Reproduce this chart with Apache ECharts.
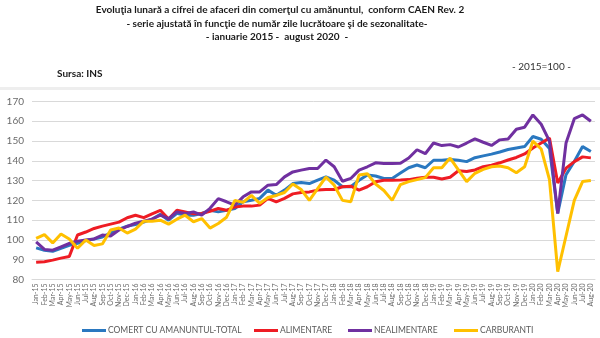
<!DOCTYPE html>
<html><head><meta charset="utf-8">
<script src="https://cdn.jsdelivr.net/npm/echarts@6/dist/echarts.min.js"></script>
<style>html,body{margin:0;padding:0;background:#fff}#c{width:600px;height:338px}</style>
</head><body><div id="c"></div>
<script>
const categories = [
'Jan-15','Feb-15','Mar-15','Apr-15','May-15','Jun-15','Jul-15','Aug-15','Sep-15','Oct-15','Nov-15','Dec-15',
'Jan-16','Feb-16','Mar-16','Apr-16','May-16','Jun-16','Jul-16','Aug-16','Sep-16','Oct-16','Nov-16','Dec-16',
'Jan-17','Feb-17','Mar-17','Apr-17','May-17','Jun-17','Jul-17','Aug-17','Sep-17','Oct-17','Nov-17','Dec-17',
'Jan-18','Feb-18','Mar-18','Apr-18','May-18','Jun-18','Jul-18','Aug-18','Sep-18','Oct-18','Nov-18','Dec-18',
'Jan-19','Feb-19','Mar-19','Apr-19','May-19','Jun-19','Jul-19','Aug-19','Sep-19','Oct-19','Nov-19','Dec-19',
'Jan-20','Feb-20','Mar-20','Apr-20','May-20','Jun-20','Jul-20','Aug-20'];

const total = [96,94.8,94.3,95.8,97.3,98.3,99.7,100.5,101.5,103.6,105.5,107,
107.8,109,110.5,113,110,113.5,112.5,112.5,113.4,115,114.2,115,
115.9,119.3,120.1,121,125.2,122.6,125.2,128.5,129,128.5,130.2,131.9,
130.2,126.9,126.9,130.2,132.8,132.3,131.1,131.1,133.8,136.5,137.9,136.5,
140.3,140.3,140.7,140.3,139.6,141.6,142.5,143.4,144.5,145.7,146.5,147.2,
152.3,150.9,146.3,113.5,133,139.7,147.2,144.7];

const alimentare = [88.7,89,89.8,90.8,91.6,102.5,104,105.8,107,108,109,111.2,
112.5,111.3,113.2,115,110.6,115,114.2,113.2,113.4,114.5,115.9,115,
116.7,117.1,117.1,117.6,121,119.3,121,123.3,124,124.3,125.2,125.5,
125.5,126.9,127.2,125.2,126.9,129.4,130.2,130.2,130.3,130.5,131.2,131.7,
131.7,130.8,131.7,135,134.6,135.4,137,137.8,139,140.4,141.7,143.5,
146.5,149,151.5,128.8,136.3,139.6,142,141.5];

const nealimentare = [99,95.2,94.8,96.5,98.2,99.4,100,100.5,102.5,102,105,106.8,
108.5,109.5,110.5,112.5,110.8,114.2,113.4,114.2,112.5,116,120.9,119.3,
117.6,121.8,124.3,124.3,127.7,128,131.9,134.4,135.3,136.1,136.1,140.4,
137,129.7,131.1,135.3,137,139,138.7,138.7,138.8,141.4,145.6,143.6,
149,147.7,148.2,147,149,151.1,149.4,147.8,150.6,151,156,157,
163.2,158.5,150,113.3,149,161.3,163.2,160];

const carburanti = [100.8,102.7,98.5,103,100.5,95.8,100,97.2,98,105,106,103.5,
105.5,109.5,109.5,110,108,110.5,112.5,109.2,110.8,106,108.3,111.5,
120,119,122.5,118.5,121.5,122.5,124,128.3,125.5,120,126,131.8,
127.7,120,119.3,132.8,133.5,128.3,125,120,128,129.5,130.5,131.5,
136.5,136.5,141.4,135.4,129.5,133.7,135.7,137,137.4,136.5,134,137,
150,146,130.5,84,102,120,129.5,130];

const seriesNames = ['COMERT CU AMANUNTUL-TOTAL','ALIMENTARE','NEALIMENTARE','CARBURANTI'];
const seriesColors = ['#2A78C0','#EE1C24','#7030A0','#FFC000'];
const seriesData = [total, alimentare, nealimentare, carburanti];
const legendLefts = [77, 249, 343, 449];

const chart = echarts.init(document.getElementById('c'), null, {renderer:'canvas'});
const font = 'Lato, "Liberation Sans", Arial, sans-serif';
chart.setOption({
  animation:false,
  backgroundColor:'#fff',
  textStyle:{fontFamily:font},
  graphic:[
    {type:'text', x:280, y:5, style:{text:'Evoluţia lunară a cifrei de afaceri din comerţul cu amănuntul,  conform CAEN Rev. 2', font:'bold 10px '+font, fill:'#1a1a1a', textAlign:'center'}},
    {type:'text', x:277, y:18.5, style:{text:'- serie ajustată în funcţie de număr zile lucrătoare şi de sezonalitate-', font:'bold 10px '+font, fill:'#1a1a1a', textAlign:'center'}},
    {type:'text', x:277, y:32, style:{text:'- ianuarie 2015 -  august 2020  -', font:'bold 10px '+font, fill:'#1a1a1a', textAlign:'center'}},
    {type:'text', x:57, y:69, style:{text:'Sursa: INS', font:'bold 10px '+font, fill:'#1a1a1a'}},
    {type:'text', x:512, y:62, style:{text:'- 2015=100 -', font:'10px '+font, fill:'#333'}},
    {type:'rect', shape:{x:0, y:87, width:600, height:3}, style:{fill:'#EEEEEE'}}
  ],
  legend: seriesNames.map((n,i)=>({
    data:[n], left:legendLefts[i], top:321, icon:'rect', itemWidth:24, itemHeight:3,
    textStyle:{fontSize:8.5, color:'#595959', fontFamily:font, padding:[0,0,0,-3]}
  })),
  grid:{left:32, right:5, top:101.5, bottom:58.5},
  xAxis:{
    type:'category', data:categories, boundaryGap:true,
    axisLine:{show:true, lineStyle:{color:'#D9D9D9'}},
    axisTick:{show:false},
    axisLabel:{interval:0, rotate:90, fontSize:7, color:'#6a6a6a', margin:4}
  },
  yAxis:{
    type:'value', min:80, max:170, interval:10,
    axisLine:{show:false}, axisTick:{show:false},
    splitLine:{lineStyle:{color:'#D9D9D9', width:1}},
    axisLabel:{fontSize:10, color:'#6a6a6a', margin:8}
  },
  series: seriesNames.map((n,i)=>({
    name:n, type:'line', data:seriesData[i], showSymbol:false, symbol:'none',
    lineStyle:{width:3, color:seriesColors[i]}, itemStyle:{color:seriesColors[i]}
  }))
});
</script></body></html>
